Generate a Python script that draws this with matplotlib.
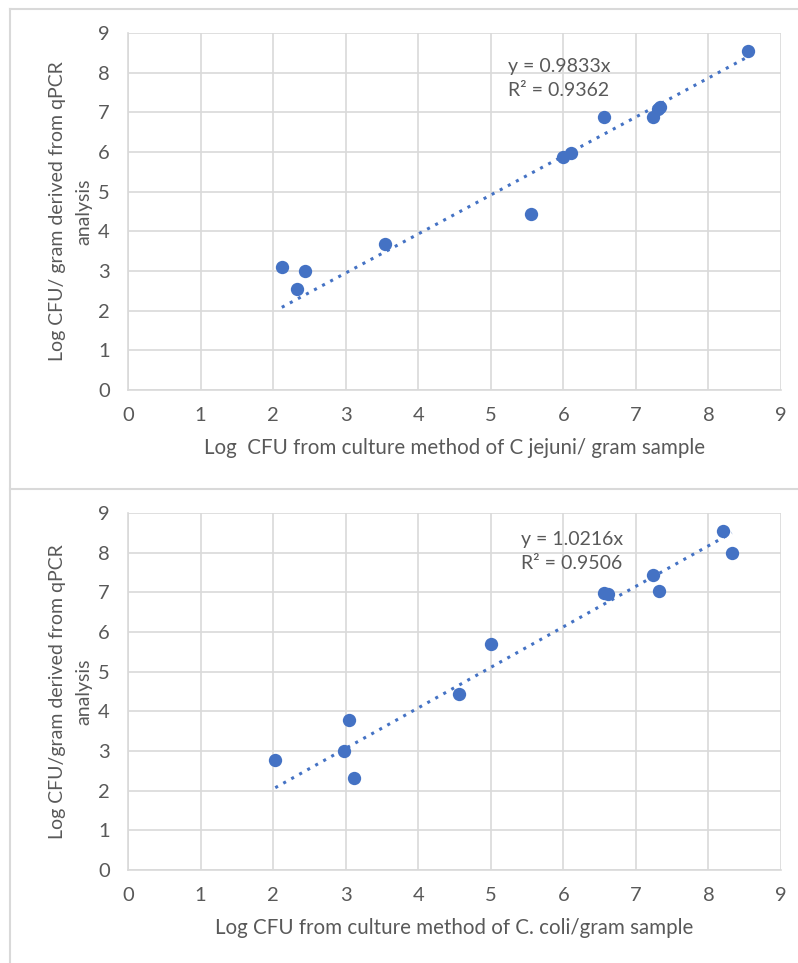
import numpy as np
import matplotlib
matplotlib.use('Agg')
import matplotlib.pyplot as plt
from matplotlib.lines import Line2D

plt.rcParams['font.family'] = ['Lato', 'DejaVu Sans']

# C. jejuni panel
jejuni_culture = [2.12, 2.33, 2.44, 3.54, 5.56, 6.00, 6.11, 6.56, 7.24, 7.31, 7.33, 8.54]
jejuni_qpcr = [3.09, 2.54, 3.01, 3.67, 4.44, 5.88, 5.98, 6.89, 6.89, 7.08, 7.14, 8.55]
jejuni_slope = 0.9833
jejuni_r2 = 0.9362

# C. coli panel
coli_culture = [2.03, 2.98, 3.04, 3.11, 4.56, 5.00, 6.56, 6.62, 7.24, 7.32, 8.20, 8.32]
coli_qpcr = [2.78, 3.00, 3.77, 2.33, 4.44, 5.69, 6.99, 6.97, 7.43, 7.03, 8.55, 8.00]
coli_slope = 1.0216
coli_r2 = 0.9506

ticks = list(range(0, 10))

BLUE = '#4472C4'
TEXT = '#595959'
GRID = '#D9D9D9'

fig = plt.figure(figsize=(7.98, 9.63), dpi=100)


def draw_panel(ax, xs, ys, slope, r2, xlabel, ylabel, eq_pos):
    ax.set_xlim(0, 9)
    ax.set_ylim(0, 9)
    ax.set_xticks(ticks)
    ax.set_yticks(ticks)
    ax.grid(True, color=GRID, linewidth=1.2)
    ax.set_axisbelow(True)
    for side in ['top', 'right']:
        ax.spines[side].set_visible(False)
    for side in ['left', 'bottom']:
        ax.spines[side].set_color(GRID)
        ax.spines[side].set_linewidth(1.2)
    ax.tick_params(length=0, labelsize=14.5, labelcolor=TEXT)
    ax.tick_params(axis='x', pad=12)
    ax.tick_params(axis='y', pad=13)

    # trendline through origin, drawn over data range
    x_line = np.array([min(xs), max(xs)])
    ax.plot(x_line, slope * x_line, linestyle=(0, (1, 2)), color=BLUE,
            linewidth=2.2, zorder=2)
    ax.scatter(xs, ys, s=92, color=BLUE, zorder=3, linewidths=0)

    ax.text(eq_pos[0], eq_pos[1],
            "y = {:.4f}x\nR² = {:.4f}".format(slope, r2),
            fontsize=14, color=TEXT, va='top', ha='left', linespacing=1.5)
    ax.set_xlabel(xlabel, fontsize=14.8, color=TEXT, labelpad=10)
    ax.set_ylabel(ylabel, fontsize=14, color=TEXT, labelpad=4,
                  multialignment='center', linespacing=1.7)


ax1 = fig.add_axes([0.1604, 0.595, 0.8183, 0.3707])
draw_panel(ax1, jejuni_culture, jejuni_qpcr, jejuni_slope, jejuni_r2,
           "Log  CFU from culture method of C jejuni/ gram sample",
           "Log CFU/ gram derived from qPCR\nanalysis", (5.24, 8.36))

ax2 = fig.add_axes([0.1604, 0.0966, 0.8183, 0.3707])
draw_panel(ax2, coli_culture, coli_qpcr, coli_slope, coli_r2,
           "Log CFU from culture method of C. coli/gram sample",
           "Log CFU/gram derived from qPCR\nanalysis", (5.42, 8.55))

# panel borders
def fx(px):
    return px / 798.0


def fy(py):
    return 1 - py / 963.0


fig.add_artist(Line2D([fx(10), fx(10)], [fy(963), fy(9)], color=GRID, linewidth=1.5))
fig.add_artist(Line2D([fx(10), fx(798)], [fy(9), fy(9)], color=GRID, linewidth=1.5))
fig.add_artist(Line2D([fx(10), fx(798)], [fy(489), fy(489)], color=GRID, linewidth=1.5))

plt.savefig('out.png', dpi=100)
plt.close()
